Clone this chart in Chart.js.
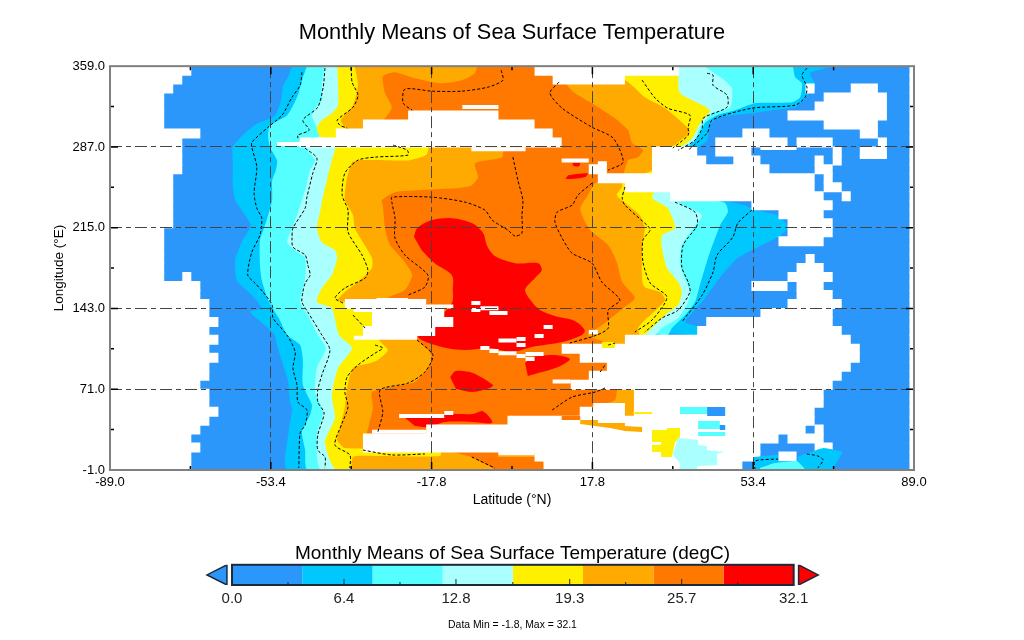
<!DOCTYPE html>
<html>
<head>
<meta charset="utf-8">
<title>Monthly Means of Sea Surface Temperature</title>
<script src="https://cdn.jsdelivr.net/npm/chart.js@4/dist/chart.umd.min.js"></script>
<style>
  html, body { margin: 0; background: #fff; }
  #wrap { position: relative; width: 1024px; height: 640px; overflow: hidden; }
  canvas { position: absolute; left: 0; }
</style>
</head>
<body>
<div id="wrap">
  <canvas id="mapChart" width="1024" height="640" style="top:0"></canvas>
  <canvas id="barChart" width="1024" height="110" style="top:530px"></canvas>
</div>
<script>
const xTicks = [-89, -53.4, -17.8, 17.8, 53.4, 89];
const xMinorTicks = [-71.2, -35.6, 0, 35.6, 71.2];
const yTicks = [-1, 71, 143, 215, 287, 359];
const yMinorTicks = [35, 107, 179, 251, 323];
const levelEdges = [0, 4.01, 8.03, 12.04, 16.05, 20.06, 24.08, 28.09, 32.1];
const levelTicks = [0, 6.4, 12.8, 19.3, 25.7, 32.1];
const levelMinorTicks = [3.2, 9.6, 16.05, 22.5, 28.9];

const wholeMap = [[-89, -1], [89, -1], [89, 359], [-89, 359]];
// the warm bands run out under the land, so they all close through here
const underLand = [[10.6, -1], [30.6, 34.6], [30.6, 119]];

// level edges as [lat, lon], west side going south then east side going north
const level1West = [[-48.7,359],[-49.4,351],[-50.7,341],[-51.1,329],[-52.5,315],[-56.7,307],[-59.6,297.5],[-61.8,287],[-61.8,271],[-61.8,253],[-61.3,240],[-59.6,229],[-57.8,217],[-59.6,204],[-61.3,186],[-60.9,168],[-57.6,155],[-55.4,143],[-58,140],[-54,125.5],[-52.5,119],[-52,110],[-50.3,88],[-49.6,79],[-49.2,61],[-48.7,52.5],[-49.4,34.6],[-49.6,-1]];
const level1East = [[41.2,119],[41.2,126.5],[38.3,131],[40.5,141.6],[42.7,152],[46.5,173],[50,188],[55.4,199.5],[58.9,206.6],[61.1,215.5],[58.7,226],[53.8,230.7],[51.6,235],[37.2,248.5],[37.2,279.7],[41.2,287],[43.2,293],[43.8,306.4],[45.6,313.5],[53.1,317],[57.6,319.8],[62.7,322.4],[64.9,330.5],[67.1,342],[66,352.7],[70,358],[70.4,359]];
const level2West = [[-45.4,359],[-46.5,346.5],[-47.4,333],[-49.8,315],[-53.6,306.4],[-54,297.5],[-53.6,287],[-52,275],[-52.3,266],[-53.1,257],[-53.1,239.6],[-54,226],[-54.9,214.6],[-55.8,204],[-55.8,181.7],[-55.4,168.3],[-54,150.5],[-51.4,132.7],[-49.8,119.3],[-46.9,110.4],[-46.3,97],[-46.3,74.7],[-44.3,56.9],[-44.7,48],[-46.5,33.6],[-45.8,16.8],[-45.2,-1]];
const level2East = [[34.5,119.3],[35.4,125.5],[38.3,137],[40.5,148.7],[41.6,163.8],[43.4,187.9],[46.1,217.3],[47.8,228.9],[47.2,236.9],[37.2,248.5],[37.2,279.7],[39,286.8],[41.6,299.3],[42.7,308.2],[45.4,315.3],[49.4,319.8],[53.8,326],[62,326.9],[63.8,331.3],[64.2,343.8],[62.7,349.2],[62.2,359]];
const level3West = [[-41.4,359],[-42.1,342],[-42.1,328.7],[-43.4,322.4],[-44.3,315.3],[-43.2,304.6],[-42.5,297.5],[-45.6,286.8],[-43.6,275.2],[-44.7,266.3],[-45.8,248.5],[-47.6,226.2],[-48.7,214.6],[-49.8,202.1],[-48,195],[-45.8,187.9],[-45.8,170],[-46.9,148.7],[-45.2,137.1],[-43,119.3],[-41.2,107.7],[-43.2,89.9],[-43.6,68.5],[-41.8,50.7],[-43.2,30.2],[-42.1,-1]];
const level3East = [[31.7,119.3],[33.2,125.5],[36.8,134.4],[39,148.7],[39.4,157.6],[37.2,181.7],[37.6,199.5],[40.1,214.6],[42.1,226.2],[36.8,237.8],[35.4,248.5],[35.4,279.7],[37.6,285.9],[40.5,293],[41.6,304.6],[44.3,317.1],[48.3,322.4],[48.7,339.4],[46.5,348.3],[43.2,357.2],[42.7,359]];
const level4West = [[-38.7,359],[-38.5,342],[-38.5,324.2],[-39.9,317.1],[-42.1,310.9],[-43.2,303.7],[-42.7,297.5],[-39.2,286.8],[-39.9,275.2],[-41,257.4],[-41.8,244],[-42.5,228.9],[-43.2,214.6],[-42.1,202.1],[-39.2,195],[-38.7,187.9],[-39.9,172.7],[-42.1,161.2],[-43.2,148.7],[-39.9,143.3],[-38.3,119.3],[-35.4,107.7],[-38.5,89.9],[-39.9,65.8],[-39.2,45.3],[-41.4,23.9],[-38.7,-1]];
const level4East = [[29.4,119.3],[31,125.5],[33.9,137.1],[36.8,146],[37.6,157.6],[36.8,166.5],[34.3,179],[33.2,196.8],[33.2,208.4],[36.1,214.6],[34.5,232.4],[31,241.4],[31.7,248.5],[31.7,279.7],[36.8,285.9],[39.9,294.8],[41.6,308.2],[43.8,319.8],[37.2,335],[36.8,352.7],[36.8,359]];
const level5West = [[-34.8,359],[-34.1,342],[-35.2,324.2],[-37.9,310.9],[-37,304.6],[-33.7,295.7],[-18.6,286.8],[-19,279.7],[-22.6,275.2],[-28.1,275.2],[-33.7,275.2],[-35.4,273.4],[-36.5,260.1],[-37,245.8],[-37,239.6],[-35.2,226.2],[-34.8,214.6],[-33,202.1],[-31,187.9],[-31,179],[-34.1,166.5],[-37,157.6],[-38.5,150.5],[-33.7,147],[-29.2,141.6],[-29.7,116.6],[-27.5,105.9],[-29.7,97],[-31.4,94.3],[-35.2,89.9],[-36.5,72.1],[-37,55.1],[-38.1,36.4],[-38.7,25.7],[-37,18.6],[-15.9,16.8],[-15.9,11.5],[-30.3,11.5],[-35.2,10.6],[-35.2,-1]];
const level5East = [[28.3,119.3],[27.9,125.5],[29.4,132.7],[32.3,143.3],[33.9,150.5],[32.8,157.6],[29.4,162],[28.8,168.3],[28.8,199.5],[29.4,214.6],[28.3,226.2],[23.2,244],[24.4,251.2],[24.4,257.4],[31,266.3],[31,279.7],[34.5,284.1],[35.4,286.8],[39.4,300.2],[38.3,306.4],[33.9,321.5],[29.4,331.3],[25,346.5],[10.6,355.4],[10.6,359]];
const level6Main = [[-7.7,359],[-8.2,352.7],[-11.1,346.5],[-15.9,343.8],[-21.5,348.3],[-25.9,353.6],[-28.6,350],[-28.1,334.9],[-26.6,322.4],[-28.1,312.6],[-30.3,306.4],[-2.2,285.9],[-2.2,277.9],[-8.2,272.5],[-7.5,260.1],[-8.9,252.9],[-12,250.3],[-25.9,246.7],[-28.8,239.6],[-28.6,235.1],[-28.1,214.6],[-27,199.5],[-23.7,184.3],[-22.1,172.7],[-23.7,159.4],[-28.1,150.5],[-24.8,128.2],[-21,114.8],[-18.6,105.9],[-17.7,98.8],[-18.6,89.9],[-21.5,77.4],[-26.6,73],[-31,68.5],[-30.8,54.2],[-32.1,32],[-32.1,25.7],[-24.8,21.3],[10.6,21.3],[15.1,43.6],[15.1,50.7],[19.5,56.9],[22.8,61.4],[23.5,72.1],[28.3,74.7],[28.3,105.9],[20.6,113],[16.8,119.3],[19.9,128.2],[24.6,143.3],[27.2,152.3],[24.4,166.5],[23.2,184.3],[21.3,199.5],[17.7,211.1],[16.2,220],[15.1,232.4],[16.8,244],[18.4,254.7],[24.4,261.8],[25.7,275.2],[27.9,277.9],[29,284.1],[26.6,290.4],[25.7,302],[22.8,312.6],[18.4,324.2],[13.9,335],[12.2,342],[9.5,355.4],[6.2,359]];
const level6South = [[-13.1,15],[-3.1,15],[-3.1,10.6],[5.1,10.6],[6.9,6.1],[6.9,-1],[-3.3,-1],[-8.9,10.6]];
const level7Main = [[-21.7,207],[-21,214.6],[-17.7,221.8],[-13.3,223.5],[-8.9,219.1],[-6.4,210.2],[-5.5,198.6],[-3.8,189.7],[0.7,183.4],[5.8,183.4],[6.6,177.2],[5.1,170.1],[2.9,159.4],[4.6,147.8],[6.2,141.6],[9.5,136.2],[13.9,131.8],[16.1,123.7],[15.5,119.3],[11.1,113],[4.4,108.6],[0,104.1],[-4.9,107.7],[-10.4,105.9],[-15.5,108.6],[-20.8,117.5],[-17.7,129],[-13.3,147.8],[-13.1,159.4],[-13.3,172.7],[-17.1,183.4],[-20,195]];
const level7Spot1 = [[2.9,94.3],[4.4,99.7],[9.5,101.5],[12.8,97.9],[10.2,90.8],[3.5,82.8]];
const level7Spot2 = [[-13.7,82],[-12.4,87.3],[-8.7,85.5],[-4.2,74.7],[-4.9,72.1],[-8.7,68.5],[-12.4,71.2]];
const level7Spot3 = [[-23.9,46.2],[-19.3,46.2],[-15.3,48.9],[-8.7,48.9],[-6.6,51.6],[-5.2,47.1],[-4.4,40.9],[-8.7,41.8],[-14.8,41.8],[-18.6,37.3],[-21.5,38.2]];
const level7Spot4 = [[11.8,258.3],[12.5,261.8],[16.8,263.6],[16.2,260.1],[13.3,258.3]];
const level7Spot5 = [[13.3,272.5],[15.1,272.5],[14.8,269.8],[13.7,269.8]];

// value patches that sit out over the land
const orangeStrip = [[15.1,43.6],[19,43.6],[19,40.9],[25,40.9],[25,38.2],[28.8,37.3],[28.8,32.9],[25,33.7],[21.7,36.4],[15.1,40]];
const darkStrip = [[11,47.1],[15.1,47.1],[15.1,43.6],[11,43.6]];
const yellowChip1 = [[19.9,113],[22.8,113],[22.8,107.7],[19.9,107.7]];
const yellowChip2 = [[26.8,50.7],[31,50.7],[31,48.9],[26.8,48.9]];
const yellowIsland = [[31,34.6],[34.3,34.6],[34.3,36.4],[37.2,36.4],[37.2,28.4],[36.1,23.9],[35.4,10.6],[33,10.6],[33,15],[31,15],[31,21.3],[33,21.3],[33,23.9],[31,23.9]];
const lightIsland = [[36.8,27.5],[41.2,25.7],[41.2,21.3],[43.2,20.4],[43.2,16.8],[47.2,15],[45.4,13.3],[45.4,3.5],[41,2.6],[41,-1],[37.2,-1],[37.2,5.2],[35.6,12.4],[36.1,19.5]];
const aquaChip1 = [[37.2,55.1],[43.2,55.1],[43.2,48.9],[37.2,48.9]];
const aquaChip2 = [[41.2,42.7],[46,42.7],[46,35.5],[41.2,35.5]];
const aquaChip3 = [[41.2,32.9],[47.2,32.9],[47.2,29.3],[41.2,29.3]];
const blueChip1 = [[43.2,55.1],[47.2,55.1],[47.2,47.1],[43.2,47.1]];
const blueChip2 = [[46,39.1],[47.2,39.1],[47.2,34.6],[46,34.6]];
const cyanNorth = [[53.4,10.6],[58.9,12.4],[58.9,7],[63.3,7],[63.3,10.6],[68.9,18.6],[73.1,15],[71.1,0.8],[70.9,-1],[53.4,-1]];
const aquaNorth = [[54.9,0.8],[58.2,5.2],[63.1,7],[64.9,-1],[54.9,-1]];

// missing-data cells, one list of [from, to] latitude spans per longitude row
const landLons = [3,11,19,27,35,43,51,59,67,75,83,91,99,107,115,123,131,139,147,155,163,171,179,187,195,203,211,219,227,235,243,251,259,267,275,283,291,299,307,315,323,331,339,347,355];
const landRows = [
  [[-89,-71],[7,51]],
  [[-89,-71],[5,55],[59,63]],
  [[-89,-69],[-33,55],[67,71]],
  [[-89,-71],[-33,59],[61,69]],
  [[-89,-69],[-19,65],[67,69]],
  [[-89,-67],[-1,67]],
  [[-89,-65],[15,25],[27,67]],
  [[-89,-67],[27,69]],
  [[-89,-67],[27,69]],
  [[-89,-69],[13,71]],
  [[-89,-67],[17,73]],
  [[-89,-67],[21,75]],
  [[-89,-65],[15,77]],
  [[-89,-67],[11,77]],
  [[-89,-65],[25,75]],
  [[-89,-67],[-33,-17],[41,73]],
  [[-89,-65],[-31,-13],[43,71]],
  [[-89,-67],[-31,-15],[55,71]],
  [[-89,-67],[-37,-19],[61,73]],
  [[-89,-69],[63,71]],
  [[-89,-69],[53,61],[63,69]],
  [[-89,-77],[-73,-71],[61,71]],
  [[-89,-77],[63,69]],
  [[-89,-77],[65,67]],
  [[-89,-77]],
  [[-89,-77],[59,69]],
  [[-89,-77],[61,71]],
  [[-89,-75],[61,71]],
  [[-89,-75],[59,69]],
  [[-89,-75],[53,71]],
  [[-89,-75],[35,69],[73,75]],
  [[-89,-75],[25,67],[69,73]],
  [[-89,-75],[19,67],[69,71]],
  [[-89,-73],[17,21],[31,57],[67,71]],
  [[-89,-73],[31,43],[49,55],[67,69],[71,73]],
  [[-89,-73],[31,41],[45,53],[71,73],[77,83]],
  [[-89,-73],[-47,11],[45,61],[63,71],[81,83]],
  [[-89,-69],[-39,9],[51,57],[77,81]],
  [[-89,-77],[-33,5],[69,81]],
  [[-89,-77],[-23,-3],[61,83]],
  [[-89,-77],[67,83]],
  [[-89,-77],[69,83]],
  [[-89,-75],[65,67],[75,81]],
  [[-89,-73],[9,25]],
  [[-89,-71],[5,37]]
];
const lastLatSpan = [88, 89];
// half-height slivers as [from, to, lon]
const landSlivers = [[-35,-21,117],[-11,-3,322.5],[-9,3,285],[-52,-46.5,289.5],[55,63,286],[77,83,278],[11,17,275],[19,21,272.5],[18,25,57],[9,13,78],[-31,-19,33],[-3,5,14],[-30,-23,150.5],[-19,-13,144.7],[-35,-31,141.6],[-9,-7,147.8],[-7,-3,143.3],[-9,-7,141.6],[-5,-1,138.9],[7,9,126.4],[17,19,122],[-3,1,114.4],[1,3,115.7],[1,3,110.4],[5,7,118.4],[-7,-5,107.7],[-5,-3,105],[-3,1,103],[1,3,100.6],[3,7,102.4],[3,5,97.9],[-25,-15,47.1],[-15,-13,49.8]];

// dashed contours as [lat, lon]
const contourLines = [
  [[-46.5,353.6],[-46.9,342],[-48.7,331.3],[-50.9,315.3],[-54,304.6],[-57.6,291.2],[-57.6,286.8],[-56.5,269],[-57.1,245.8],[-56.5,232.4],[-55.4,223.5],[-55.8,208.4],[-57.6,193.2],[-58.5,172.7],[-56.9,165.6],[-55.1,157.6],[-53.1,146],[-52.9,134.4],[-49.8,119.3],[-48,104.1],[-48.5,89.9],[-47.6,74.7],[-47.4,59.6],[-45.4,52.5],[-45.8,39.1],[-46.9,32],[-47.2,0.8]],
  [[-41.4,357.2],[-41.8,340.3],[-43,322.4],[-46.3,310.9],[-44.9,302],[-47.4,297.5],[-47.4,294.8]],
  [[-45.8,285.9],[-43.2,277],[-44.1,263.6],[-45.4,242.2],[-45.8,232.4],[-48.5,214.6],[-48.7,205.7],[-48.5,197.7],[-45.8,190.6],[-45.2,181.7],[-44.7,172.7],[-45.8,165.6],[-46.3,157.6],[-46.5,148.7],[-45.2,139.8],[-42.1,119.3],[-40.3,105.9],[-42.1,83.6],[-43,70.3],[-43,59.6],[-41.6,49.8],[-43,30.2],[-43,16.8],[-41.4,10.6],[-41.4,0.8]],
  [[-35.6,357.2],[-35.4,344.7],[-34.1,333.1],[-35.2,322.4],[-38.7,310.9],[-38.1,306.4],[-36.5,303.7]],
  [[-26.3,288.6],[-23.2,284.1],[-23,279.7],[-30.3,277.9],[-34.1,275.2],[-37,263.6],[-37.6,244],[-36.3,230.7],[-36.3,211.1],[-33.2,190.6],[-31.9,177.2],[-32.5,170.1],[-37,161.2],[-39.2,152.3],[-37.4,147.8]],
  [[-35.2,137.1],[-32.5,125.5]],
  [[-30.3,110.4],[-28.6,107.7],[-30.3,103.2],[-34.1,92.6],[-36.5,81.9],[-37,68.5],[-36.3,55.1],[-37.6,40.9],[-39.2,21.3],[-35.9,12.4],[-35.9,0.8]],
  [[-33,16.8],[-26.6,12.4],[-19.3,13.3]],
  [[-2.4,355.4],[-2,346.5],[-5.3,340.3],[-11.1,336.7],[-17.7,336.7],[-23.7,338.5],[-24.1,326],[-22.1,319.8]],
  [[10.4,344.7],[8.4,335],[11.1,321.5],[17.7,304.6],[22.4,294.8],[24.6,273.4],[21.3,266.3]],
  [[0.2,277.9],[1.3,257.4],[2.4,239.6],[2.2,226.2],[2.2,210.2],[0.7,207.5],[-0.9,212.8],[-4.4,221.8],[-6,230.7],[-10.4,237.8],[-17.7,242.2],[-26.6,242.2],[-26.6,237.8],[-25.9,223.5],[-25.9,205.7],[-23.7,190.6],[-18.6,172.7],[-19.3,162.1],[-23,154.9]],
  [[17.7,254.7],[14.6,244],[13.3,235.1],[10,228.9],[9.5,220],[11.1,205.7],[13.3,192.3],[17.7,183.4],[19.9,166.5],[23.9,150.5],[21.3,141.6],[21.3,125.5],[18.8,119.3],[12.8,112.2]],
  [[-21,114.8],[-17.5,101.5],[-19.3,86.3],[-23,76.5],[-29.2,70.3],[-28.6,50.7],[-29.7,32.9]],
  [[8.9,52.5],[13.3,64],[18.4,68.5],[20.6,72.1]],
  [[19.5,86.3],[20.6,92.6]],
  [[21.3,110.4],[22.8,112.2]],
  [[-8.9,10.6],[-3.8,0.8]],
  [[28.8,346.5],[31.7,330.5],[34.5,321.5],[39.4,315.3],[39,304.6],[39,297.5],[35.6,285.9]],
  [[43.2,352.7],[44.5,351],[44.5,342],[47.6,333.1],[47.6,322.4],[42.3,312.6],[42.1,303.7],[40.5,293],[36.8,284.1]],
  [[65.3,357.2],[64.2,351],[65.3,340.3],[64.9,331.3],[62.7,324.2],[53.1,321.5],[44.3,310.9],[43.2,299.3],[39,284.1]],
  [[25,251.2],[24.4,241.4],[25,235.1],[30.1,216.4],[30.6,212.8],[29,204],[29,184.3],[30.6,165.6],[34.3,153.1],[31,132.7],[27.2,122]],
  [[36.1,237.8],[40.5,228.9],[41,217.3],[37.9,199.5],[37.6,179.9],[39,166.5],[39.4,157.6],[36.8,141.6],[33.2,134.4],[29.4,122]],
  [[53.1,230.7],[50,219.1],[48.9,206.6],[45.4,190.6],[44.5,175.4],[42.1,154.9],[37.6,130.9]],
  [[53.8,-1],[53.8,7],[58.9,8.8]],
  [[65.3,13.3],[67.7,11.5],[68.9,7.9],[67.7,0.8]]
];

const BLUE = '#2b97fb', CYAN = '#00c8ff', AQUA = '#55ffff', LIGHT = '#aaffff';
const YELLOW = '#fff000', ORANGE = '#ffaa00', DARK = '#ff7800', RED = '#ff0000';
const levelColors = [BLUE, CYAN, AQUA, LIGHT, YELLOW, ORANGE, DARK, RED];
const FONT = "'Liberation Sans', Arial, sans-serif";
const GRID_DASH = [12, 4, 5, 4];
const GRID_COLOR = '#444444';

function area(edge, color, tension) {
    return {
        type: 'scatter', showLine: true, fill: 'shape', backgroundColor: color,
        borderWidth: 0, pointRadius: 0, tension: tension,
        data: edge.map(p => ({ x: p[0], y: p[1] }))
    };
}

function band(west, east, color) {
    return area(west.concat(underLand, east), color, 0.2);
}

function landBars(data, thickness) {
    return {
        type: 'bar', backgroundColor: '#ffffff', borderWidth: 0, inflateAmount: 0,
        barThickness: thickness, grouped: false, data: data
    };
}

const landCells = [];
landRows.forEach((spans, i) => {
    spans.concat([lastLatSpan]).forEach(s => landCells.push({ x: s, y: landLons[i] }));
});

const mapSets = [
    area(wholeMap, BLUE, 0),
    band(level1West, level1East, CYAN),
    band(level2West, level2East, AQUA),
    band(level3West, level3East, LIGHT),
    band(level4West, level4East, YELLOW),
    band(level5West, level5East, ORANGE),
    area(level6Main, DARK, 0.2),
    area(level6South, DARK, 0.1),
    area(level7Main, RED, 0.3),
    area(level7Spot1, RED, 0.3),
    area(level7Spot2, RED, 0.3),
    area(level7Spot3, RED, 0.3),
    area(level7Spot4, RED, 0.2),
    area(level7Spot5, RED, 0.2),
    landBars(landCells, 10),
    landBars(landSlivers.map(s => ({ x: [s[0], s[1]], y: s[2] })), 4),
    area(orangeStrip, ORANGE, 0),
    area(darkStrip, DARK, 0),
    area(yellowChip1, YELLOW, 0),
    area(yellowChip2, YELLOW, 0),
    area(yellowIsland, YELLOW, 0),
    area(lightIsland, LIGHT, 0.1),
    area(aquaChip1, AQUA, 0),
    area(aquaChip2, AQUA, 0),
    area(aquaChip3, AQUA, 0),
    area(blueChip1, BLUE, 0),
    area(blueChip2, BLUE, 0),
    area(cyanNorth, CYAN, 0.1),
    area(aquaNorth, AQUA, 0.1)
];
contourLines.forEach(line => {
    mapSets.push({
        type: 'scatter', showLine: true, fill: false, borderColor: '#000000', borderWidth: 1,
        borderDash: [3, 2], pointRadius: 0, tension: 0.25,
        data: line.map(p => ({ x: p[0], y: p[1] }))
    });
});
// painter's order: later entries go on top
mapSets.forEach((d, i) => { d.order = mapSets.length - i; });

const mapFrame = {
    id: 'mapFrame',
    afterDraw(chart) {
        const { ctx, chartArea: a, scales: { x, y } } = chart;
        ctx.save();
        ctx.strokeStyle = '#000';
        ctx.lineWidth = 1.5;
        const mark = (list, len) => {
            list.forEach(v => {
                const px = x.getPixelForValue(v);
                ctx.beginPath();
                ctx.moveTo(px, a.top); ctx.lineTo(px, a.top + len);
                ctx.moveTo(px, a.bottom); ctx.lineTo(px, a.bottom - len);
                ctx.stroke();
            });
        };
        const markY = (list, len) => {
            list.forEach(v => {
                const py = y.getPixelForValue(v);
                ctx.beginPath();
                ctx.moveTo(a.left, py); ctx.lineTo(a.left + len, py);
                ctx.moveTo(a.right, py); ctx.lineTo(a.right - len, py);
                ctx.stroke();
            });
        };
        mark(xTicks.slice(1, -1), 8);
        mark(xMinorTicks, 4);
        markY(yTicks.slice(1, -1), 8);
        markY(yMinorTicks, 4);
        ctx.strokeStyle = '#808080';
        ctx.lineWidth = 2;
        ctx.strokeRect(a.left, a.top, a.right - a.left, a.bottom - a.top);
        ctx.restore();
    }
};

new Chart(document.getElementById('mapChart'), {
    type: 'scatter',
    data: { datasets: mapSets },
    plugins: [mapFrame],
    options: {
        responsive: false,
        animation: false,
        events: [],
        indexAxis: 'y',
        layout: { padding: { left: 0, right: 0, top: 0, bottom: 130 } },
        plugins: {
            legend: { display: false },
            tooltip: { enabled: false },
            title: {
                display: true,
                text: 'Monthly Means of Sea Surface Temperature',
                color: '#000',
                font: { family: FONT, size: 21.8, weight: 'normal' },
                padding: { top: 20, bottom: 20 }
            }
        },
        scales: {
            x: {
                type: 'linear', min: -89, max: 89, offset: false,
                afterBuildTicks: s => { s.ticks = xTicks.map(v => ({ value: v })); },
                afterFit: s => { s.height = 40; },
                grid: {
                    z: 1, drawTicks: false, lineWidth: 1, offset: false,
                    color: c => (c.tick && Math.abs(c.tick.value) < 89 ? GRID_COLOR : 'rgba(0,0,0,0)')
                },
                border: { display: false, dash: GRID_DASH },
                ticks: {
                    color: '#000', padding: 5, maxRotation: 0, autoSkip: false,
                    font: { family: FONT, size: 13 },
                    callback: v => v.toFixed(1)
                },
                title: { display: true, text: 'Latitude (°N)', color: '#000', padding: 1, font: { family: FONT, size: 14 } }
            },
            y: {
                type: 'linear', min: -1, max: 359, offset: false,
                afterBuildTicks: s => { s.ticks = yTicks.map(v => ({ value: v })); },
                afterFit: s => { s.width = 110; },
                grid: {
                    z: 1, drawTicks: false, lineWidth: 1, offset: false,
                    color: c => (c.tick && c.tick.value > -1 && c.tick.value < 359 ? GRID_COLOR : 'rgba(0,0,0,0)')
                },
                border: { display: false, dash: GRID_DASH },
                ticks: {
                    color: '#000', padding: 5, autoSkip: false,
                    font: { family: FONT, size: 13 },
                    callback: v => v.toFixed(1)
                },
                title: { display: true, text: 'Longitude (°E)', color: '#000', padding: { top: 51, bottom: 0 }, font: { family: FONT, size: 13.5 } }
            },
            // empty axis, only there so the title centres on the page
            spacer: {
                type: 'linear', position: 'right', min: 0, max: 1,
                afterFit: s => { s.width = 110; },
                grid: { display: false, drawTicks: false },
                border: { display: false },
                ticks: { display: false }
            }
        }
    }
});

// colour bar
const arrowLow = [[-0.29, 0], [-0.29, 1], [-1.43, 0.5]];
const arrowHigh = [[32.38, 0], [32.38, 1], [33.5, 0.5]];

function arrow(points, color) {
    return {
        type: 'scatter', showLine: true, fill: 'shape', backgroundColor: color,
        borderColor: '#1c2a3a', borderWidth: 1.5, pointRadius: 0,
        data: points.concat([points[0]]).map(p => ({ x: p[0], y: p[1] }))
    };
}

const keySets = levelColors.map((c, i) => ({
    type: 'bar', backgroundColor: c, borderWidth: 0, inflateAmount: 0, grouped: false,
    barThickness: 20,
    data: [{ x: [levelEdges[i], levelEdges[i + 1]], y: 0.5 }]
}));
keySets.push(arrow(arrowLow, BLUE), arrow(arrowHigh, RED));

const keyFrame = {
    id: 'keyFrame',
    afterDraw(chart) {
        const { ctx, scales: { x, y } } = chart;
        const top = y.getPixelForValue(1), bottom = y.getPixelForValue(0);
        const left = x.getPixelForValue(0), right = x.getPixelForValue(32.1);
        ctx.save();
        ctx.strokeStyle = '#1c2a3a';
        ctx.lineWidth = 1;
        levelTicks.slice(1, -1).forEach(v => {
            const px = x.getPixelForValue(v);
            ctx.beginPath(); ctx.moveTo(px, bottom); ctx.lineTo(px, bottom - 6); ctx.stroke();
        });
        levelMinorTicks.forEach(v => {
            const px = x.getPixelForValue(v);
            ctx.beginPath(); ctx.moveTo(px, bottom); ctx.lineTo(px, bottom - 3); ctx.stroke();
        });
        ctx.lineWidth = 2;
        ctx.strokeRect(left, top, right - left, bottom - top);
        ctx.restore();
    }
};

new Chart(document.getElementById('barChart'), {
    type: 'scatter',
    data: { datasets: keySets },
    plugins: [keyFrame],
    options: {
        responsive: false,
        animation: false,
        events: [],
        indexAxis: 'y',
        layout: { padding: { left: 200, right: 199, top: 0, bottom: 0 } },
        plugins: {
            legend: { display: false },
            tooltip: { enabled: false },
            title: {
                display: true,
                text: 'Monthly Means of Sea Surface Temperature (degC)',
                color: '#000',
                font: { family: FONT, size: 19, weight: 'normal' },
                padding: { top: 12, bottom: 0 }
            }
        },
        scales: {
            x: {
                type: 'linear', min: -1.83, max: 33.89, offset: false,
                afterBuildTicks: s => { s.ticks = levelTicks.map(v => ({ value: v })); },
                afterFit: s => { s.height = 55; },
                grid: { display: false, drawTicks: false },
                border: { display: false },
                ticks: {
                    color: '#222', padding: 5, maxRotation: 0, autoSkip: false,
                    font: { family: FONT, size: 15 },
                    callback: v => v.toFixed(1)
                },
                title: {
                    display: true, text: 'Data Min = -1.8, Max = 32.1', color: '#000',
                    padding: { top: 0, bottom: 9 }, font: { family: FONT, size: 10.4 }
                }
            },
            y: {
                type: 'linear', min: 0, max: 1, display: false, offset: false
            }
        }
    }
});
</script>
</body>
</html>
